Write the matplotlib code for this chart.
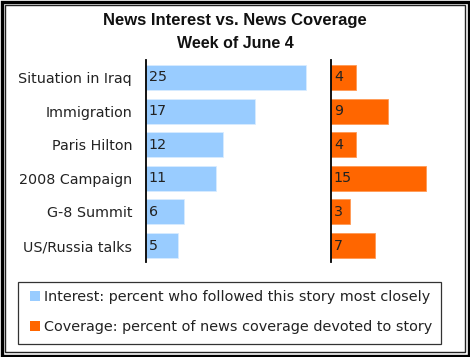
import matplotlib
matplotlib.use("Agg")
import matplotlib.pyplot as plt
from matplotlib.patches import Rectangle

stories = ["Situation in Iraq", "Immigration", "Paris Hilton", "2008 Campaign",
           "G-8 Summit", "US/Russia talks"]
interest = [25, 17, 12, 11, 6, 5]
coverage = [4, 9, 4, 15, 3, 7]

blue = "#99CCFF"
orange = "#FF6600"
W, H = 470, 357

fig = plt.figure(figsize=(W / 100, H / 100), dpi=100)
plt.rcParams['font.family'] = ['DejaVu Sans']

def fx(px):
    return px / W

def fy(py):
    return 1 - py / H

# axes positioned in pixel units (top y = 60, bottom y = 262)
top, bot = 60, 262
ax1 = fig.add_axes([fx(146), fy(bot), fx(320 - 146), (bot - top) / H])
ax2 = fig.add_axes([fx(331), fy(bot), fx(450 - 331), (bot - top) / H])

pos = list(range(len(stories)))
for ax, vals, col, xmax in [(ax1, interest, blue, 174 / 6.4), (ax2, coverage, orange, 119 / 6.33)]:
    ax.barh(pos, vals, height=0.74, color=col, edgecolor="#d8ecff" if col == blue else "#ff9a55", linewidth=0.6)
    for p, v in zip(pos, vals):
        ax.text(0.45, p, str(v), va="center", ha="left", fontsize=10.3, color="#222222")
    ax.set_xlim(0, xmax)
    ax.set_ylim(5.49, -0.52)
    for s in ["top", "right", "bottom"]:
        ax.spines[s].set_visible(False)
    ax.spines["left"].set_linewidth(1.3)
    ax.set_xticks([])
    ax.set_yticks([])
    ax.patch.set_alpha(0)

ax1.set_yticks(pos)
ax1.set_yticklabels(stories, fontsize=10.3, color="#222222")
ax1.tick_params(axis="y", length=0, pad=10)

fig.text(0.5, fy(21), "News Interest vs. News Coverage", ha="center", va="center",
         fontsize=12, fontweight="bold", color="#111111", family="Liberation Sans")
fig.text(0.5, fy(43), "Week of June 4", ha="center", va="center",
         fontsize=11.5, fontweight="bold", color="#111111", family="Liberation Sans")

# legend box
fig.patches.append(Rectangle((fx(18), fy(344)), fx(441 - 18), (344 - 282) / H,
                             transform=fig.transFigure, fill=False, edgecolor="#333333", linewidth=0.9))
fig.patches.append(Rectangle((fx(30), fy(301)), fx(10), 10 / H, transform=fig.transFigure,
                             facecolor=blue, edgecolor="none"))
fig.patches.append(Rectangle((fx(30), fy(331)), fx(10), 10 / H, transform=fig.transFigure,
                             facecolor=orange, edgecolor="none"))
fig.text(fx(44), fy(297), "Interest: percent who followed this story most closely",
         va="center", ha="left", fontsize=10.4, color="#222222")
fig.text(fx(44), fy(327), "Coverage: percent of news coverage devoted to story",
         va="center", ha="left", fontsize=10.4, color="#222222")

# double frame
fig.patches.append(Rectangle((fx(1.5), fy(H - 1.5)), fx(W - 3), (H - 3) / H,
                             transform=fig.transFigure, fill=False, edgecolor="black", linewidth=2.4))
fig.patches.append(Rectangle((fx(5), fy(H - 5)), fx(W - 10), (H - 10) / H,
                             transform=fig.transFigure, fill=False, edgecolor="#222222", linewidth=1.0))

fig.savefig("out.png", dpi=100)
